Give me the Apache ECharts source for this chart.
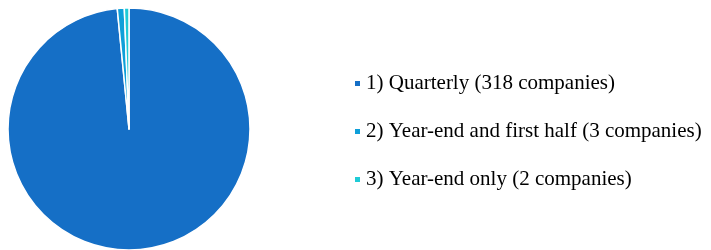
<!DOCTYPE html>
<html>
<head>
<meta charset="utf-8">
<script src="https://cdn.jsdelivr.net/npm/echarts@6/dist/echarts.min.js"></script>
<style>
html, body, #main { margin: 0; padding: 0; width: 711px; height: 250px; overflow: hidden; background: #fff; }
</style>
</head>
<body>
<div id="main"></div>
<script>
const categories = ["1) Quarterly (318 companies)", "2) Year-end and first half (3 companies)", "3) Year-end only (2 companies)"];
const values = [318, 3, 2];
const colors = ["#156FC6", "#0E9FD9", "#1FCBD6"];

let myChart = echarts.init(document.getElementById("main"));
myChart.setOption({
  animation: false,
  color: colors,
  legend: {
    orient: "vertical",
    left: 348,
    top: 68,
    icon: "rect",
    itemWidth: 7,
    itemHeight: 7,
    itemGap: 27,
    textStyle: { fontFamily: "Liberation Serif", fontSize: 21, color: "#000" },
    data: categories,
  },
  series: [
    {
      type: "pie",
      center: [129, 129],
      radius: [0, 121],
      label: { show: false },
      labelLine: { show: false },
      itemStyle: { borderColor: "#fff", borderWidth: 1.5 },
      data: categories.map((c, i) => ({ name: c, value: values[i] })),
    },
  ],
});
</script>
</body>
</html>
